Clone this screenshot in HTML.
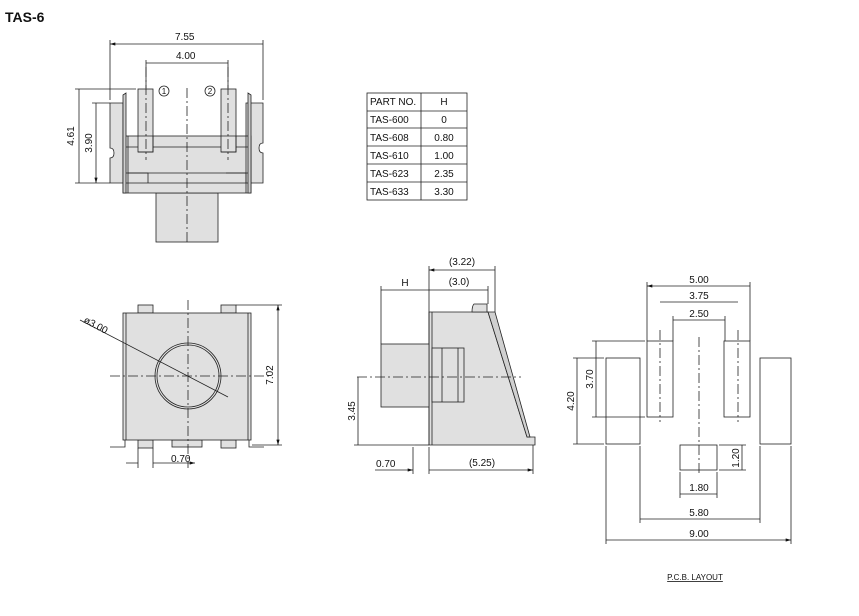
<!DOCTYPE html>
<html><head><meta charset="utf-8"><style>
html,body{margin:0;padding:0;background:#fff;}
svg text{font-family:"Liberation Sans",sans-serif;font-size:10px;fill:#111;}
</style></head><body>
<svg width="859" height="611" viewBox="0 0 859 611" xmlns="http://www.w3.org/2000/svg">
<defs>
<marker id="a" viewBox="0 0 10 6" refX="10" refY="3" markerWidth="9" markerHeight="4" orient="auto-start-reverse"><path d="M0,0L10,3L0,6z" fill="#111"/></marker>
</defs>
<text x="5" y="22" style="font-size:14px;font-weight:bold">TAS-6</text>

<g stroke="#222" stroke-width="0.8" fill="none">
<!-- TOP LEFT VIEW -->
<path d="M110,103 h13 v80 h-13 v-25 q4,0 4,-5 q0,-5 -4,-5z M246,103 h17 v40 q-4,0 -4,5 q0,5 4,5 v30 h-17z" fill="#e0e0e0"/>
<rect x="156" y="193" width="62" height="49" fill="#e0e0e0"/>
<rect x="123" y="136" width="128" height="57" fill="#e0e0e0"/>
<path d="M123,147 h128 M123,173 h128 M123,183 h128 M128,136 v57 M246,136 v57"/>
<path d="M123,95 l3,-2 v100 h-3z M251,95 l-3,-2 v100 h3z" fill="#d0d0d0"/>
<rect x="138" y="89" width="15" height="63" fill="#e0e0e0"/>
<rect x="221" y="89" width="15" height="63" fill="#e0e0e0"/>
<path d="M138,136 h15 v16 h-15 M221,136 h15 v16 h-15 M128,173 h20 v10 M226,173 h20 v10"/>
<circle cx="164" cy="91" r="5"/><circle cx="210" cy="91" r="5"/>
<path d="M187,88 V245 M146,67 V160 M228,67 V160" stroke-dasharray="10,3,2,3"/>
<path d="M110,40 V100 M263,40 V100 M146,60 V88 M228,60 V88 M75,89 H136 M92,103 H110 M75,183 H110"/>
<path d="M110,44 H263 M146,63 H228 M79,89 V183 M96,103 V183" marker-start="url(#a)" marker-end="url(#a)"/>

<!-- BOTTOM LEFT VIEW -->
<rect x="138" y="305" width="15" height="8" fill="#e0e0e0"/>
<rect x="221" y="305" width="15" height="8" fill="#e0e0e0"/>
<rect x="138" y="440" width="15" height="8" fill="#e0e0e0"/>
<rect x="221" y="440" width="15" height="8" fill="#e0e0e0"/>
<rect x="172" y="440" width="30" height="7" fill="#e0e0e0"/>
<path d="M110,447 h15 v-7 M264,447 h-15 v-7"/>
<rect x="123" y="313" width="128" height="127" fill="#e0e0e0"/>
<path d="M126,313 v127 M248,313 v127"/>
<circle cx="188" cy="376" r="33"/><circle cx="188" cy="376" r="31"/>
<path d="M188,300 V468 M110,376 H270" stroke-dasharray="10,3,2,3"/>
<path d="M236,305 H282 M252,445 H282 M138,448 V468 M153,448 V468"/>
<path d="M278,305 V445" marker-start="url(#a)" marker-end="url(#a)"/>
<path d="M80,320 L228,397"/>
<path d="M126,463 H138 M165,463 H153 M165,463 H195" marker-end="url(#a)"/>

<!-- TABLE -->
<rect x="367" y="93" width="100" height="107" fill="#fff"/>
<path d="M421,93 V200 M367,111 H467 M367,128 H467 M367,146 H467 M367,164 H467 M367,182 H467"/>

<!-- SIDE VIEW -->
<path d="M429,312 H488 L527,437 L535,437 V445 H429z" fill="#e0e0e0"/>
<path d="M488,312 L495,312 L530,437 L527,437z" fill="#d0d0d0"/>
<path d="M429,312 v133 M432,312 v133"/>
<rect x="381" y="344" width="48" height="63" fill="#e0e0e0"/>
<rect x="432" y="348" width="32" height="54" fill="#e0e0e0"/>
<path d="M442,348 v54 M458,348 v54"/>
<path d="M474,304 h13 v8 h-15 q0,-6 2,-8z" fill="#e0e0e0"/>
<path d="M415,445 h14"/>
<path d="M357,377 H521" stroke-dasharray="10,3,2,3"/>
<path d="M381,286 V344 M429,266 V312 M495,266 V312 M488,286 V304 M354,445 H415 M413,447 V474 M429,447 V474 M533,445 V474"/>
<path d="M429,270 H495 M429,290 H488 M381,290 H429 M358,377 V445 M429,470 H533" marker-start="url(#a)" marker-end="url(#a)"/>
<path d="M375,470 H413" marker-end="url(#a)"/>

<!-- PCB -->
<rect x="647" y="341" width="26" height="76"/>
<rect x="724" y="341" width="26" height="76"/>
<rect x="606" y="358" width="34" height="86"/>
<rect x="760" y="358" width="31" height="86"/>
<rect x="680" y="445" width="37" height="25"/>
<path d="M699,337 V475 M660,330 V422 M738,330 V422" stroke-dasharray="10,3,2,3"/>
<path d="M647,282 V341 M750,282 V341 M673,316 V341 M725,316 V341 M592,341 H645 M592,417 H645 M573,358 H604 M573,444 H604 M719,445 H746 M719,470 H746 M680,472 V498 M717,472 V498 M640,446 V523 M760,446 V523 M606,446 V544 M791,446 V544"/>
<path d="M647,286 H750 M660,302 H738 M673,320 H725 M596,341 V417 M577,358 V444 M742,445 V470 M680,494 H717 M640,519 H760 M606,540 H791" marker-start="url(#a)" marker-end="url(#a)"/>
</g>

<!-- labels -->
<text x="175" y="40">7.55</text>
<text x="176" y="59">4.00</text>
<text x="164" y="94" text-anchor="middle" style="font-size:8px">1</text>
<text x="210" y="94" text-anchor="middle" style="font-size:8px">2</text>
<text transform="translate(74,136) rotate(-90)" text-anchor="middle">4.61</text>
<text transform="translate(92,143) rotate(-90)" text-anchor="middle">3.90</text>
<text transform="translate(83,322) rotate(28)">ø3.00</text>
<text transform="translate(273,375) rotate(-90)" text-anchor="middle">7.02</text>
<text x="171" y="462">0.70</text>

<g style="font-size:9px">
<text x="370" y="105">PART NO.</text><text x="444" y="105" text-anchor="middle">H</text>
<text x="370" y="123">TAS-600</text><text x="444" y="123" text-anchor="middle">0</text>
<text x="370" y="141">TAS-608</text><text x="444" y="141" text-anchor="middle">0.80</text>
<text x="370" y="159">TAS-610</text><text x="444" y="159" text-anchor="middle">1.00</text>
<text x="370" y="177">TAS-623</text><text x="444" y="177" text-anchor="middle">2.35</text>
<text x="370" y="195">TAS-633</text><text x="444" y="195" text-anchor="middle">3.30</text>
</g>

<text x="462" y="265" text-anchor="middle">(3.22)</text>
<text x="459" y="285" text-anchor="middle">(3.0)</text>
<text x="405" y="286" text-anchor="middle">H</text>
<text transform="translate(355,411) rotate(-90)" text-anchor="middle">3.45</text>
<text x="376" y="467">0.70</text>
<text x="482" y="466" text-anchor="middle">(5.25)</text>

<text x="699" y="283" text-anchor="middle">5.00</text>
<text x="699" y="299" text-anchor="middle">3.75</text>
<text x="699" y="317" text-anchor="middle">2.50</text>
<text transform="translate(593,379) rotate(-90)" text-anchor="middle">3.70</text>
<text transform="translate(574,401) rotate(-90)" text-anchor="middle">4.20</text>
<text transform="translate(739,458) rotate(-90)" text-anchor="middle">1.20</text>
<text x="699" y="491" text-anchor="middle">1.80</text>
<text x="699" y="516" text-anchor="middle">5.80</text>
<text x="699" y="537" text-anchor="middle">9.00</text>
<text x="695" y="580" text-anchor="middle" style="font-size:8px;text-decoration:underline">P.C.B. LAYOUT</text>
</svg>
</body></html>
